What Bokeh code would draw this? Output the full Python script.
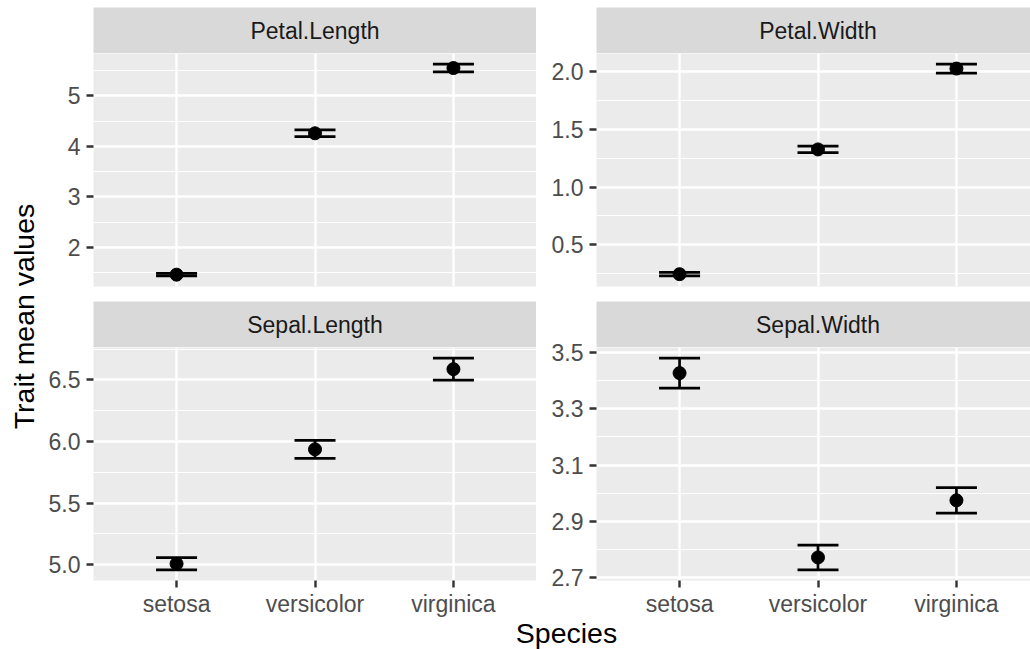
import math
from bokeh.plotting import figure
from bokeh.models import (Range1d, FixedTicker, Label, Whisker, TeeHead, ColumnDataSource,
                          NumeralTickFormatter)
from bokeh.layouts import row, column
from bokeh.embed import file_html
from bokeh.resources import INLINE
from bokeh.core.properties import value

# ---------------- data ----------------
species = ["setosa", "versicolor", "virginica"]

petal_length_mean = [1.462, 4.260, 5.552]
petal_length_se = [0.0246, 0.0665, 0.0780]
petal_width_mean = [0.246, 1.326, 2.026]
petal_width_se = [0.0149, 0.0280, 0.0388]
sepal_length_mean = [5.006, 5.936, 6.588]
sepal_length_se = [0.0498, 0.0730, 0.0899]
sepal_width_mean = [3.428, 2.770, 2.974]
sepal_width_se = [0.0536, 0.0444, 0.0456]

petal_length_ticks = [2, 3, 4, 5]
petal_length_minor = [1.5, 2.5, 3.5, 4.5, 5.5]
petal_width_ticks = [0.5, 1.0, 1.5, 2.0]
petal_width_minor = [0.25, 0.75, 1.25, 1.75]
sepal_length_ticks = [5.0, 5.5, 6.0, 6.5]
sepal_length_minor = [5.25, 5.75, 6.25, 6.75]
sepal_width_ticks = [2.7, 2.9, 3.1, 3.3, 3.5]
sepal_width_minor = [2.8, 3.0, 3.2, 3.4]

x_title = "Species"
y_title = "Trait mean values"

FONT = "Liberation Sans"
x_pos = [i + 1 for i in range(len(species))]
LEFT_XEND = 3.6
RIGHT_XEND = 0.4 + 3.2 * 434 / 443


def strip(label, width, left_border, height, top_border, x_end):
    s = figure(width=width, height=height, x_range=Range1d(0.4, x_end), y_range=Range1d(0, 1),
               x_axis_location=None, y_axis_location=None,
               min_border_left=left_border, min_border_right=0,
               min_border_top=top_border, min_border_bottom=0,
               background_fill_color="#d9d9d9", border_fill_color="white",
               outline_line_color=None, output_backend="svg", toolbar_location=None)
    s.grid.visible = False
    s.text(x=[2.0], y=[0.5], text=[label], text_align="center", text_baseline="middle",
           text_font=value(FONT), text_font_size="23px", text_color="#1a1a1a")
    return s


def panel(means, se, ticks, minor, fmt, width, left_border, height, top_border,
          bottom_border, x_end, show_x):
    lower = [m - e for m, e in zip(means, se)]
    upper = [m + e for m, e in zip(means, se)]
    lo, hi = min(lower), max(upper)
    pad = (hi - lo) * 0.05
    p = figure(width=width, height=height, x_range=Range1d(0.4, x_end),
               y_range=Range1d(lo - pad, hi + pad),
               x_axis_location="below" if show_x else None,
               min_border_left=left_border, min_border_right=0,
               min_border_top=top_border, min_border_bottom=bottom_border,
               background_fill_color="#ebebeb", border_fill_color=None,
               outline_line_color=None, output_backend="svg", toolbar_location=None,
               margin=(-top_border, 0, 0, 0))
    p.xgrid.ticker = FixedTicker(ticks=x_pos)
    p.xgrid.grid_line_color = "white"
    p.xgrid.grid_line_width = 2.4
    p.ygrid.ticker = FixedTicker(ticks=ticks, minor_ticks=minor)
    p.ygrid.grid_line_color = "white"
    p.ygrid.grid_line_width = 2.4
    p.ygrid.minor_grid_line_color = "white"
    p.ygrid.minor_grid_line_width = 1.2

    axes = [p.yaxis[0]]
    p.yaxis.ticker = FixedTicker(ticks=ticks)
    p.yaxis.formatter = NumeralTickFormatter(format=fmt)
    if show_x:
        p.xaxis.ticker = FixedTicker(ticks=x_pos)
        p.xaxis.major_label_overrides = {xp: sp for xp, sp in zip(x_pos, species)}
        p.xaxis.major_label_standoff = 3
        axes.append(p.xaxis[0])
    for ax in axes:
        ax.axis_line_color = None
        ax.major_tick_line_color = "#333333"
        ax.major_tick_line_width = 2.4
        ax.major_tick_out = 7
        ax.major_tick_in = 0
        ax.minor_tick_line_color = None
        ax.major_label_text_font = FONT
        ax.major_label_text_font_size = "23px"
        ax.major_label_text_color = "#4d4d4d"
    p.yaxis.major_label_standoff = 6

    src = ColumnDataSource(dict(x=x_pos, m=means, lower=lower, upper=upper))
    w = Whisker(base="x", lower="lower", upper="upper", source=src, dimension="height",
                line_color="black", line_width=2.7, level="glyph",
                upper_head=TeeHead(size=41, line_color="black", line_width=2.7),
                lower_head=TeeHead(size=41, line_color="black", line_width=2.7))
    p.add_layout(w)
    p.scatter(x="x", y="m", source=src, size=13, color="black")
    return p


LW, LB = 496, 53
RW, RB = 494, 60
OV = 12  # overlap of a panel figure's top border onto the strip above it

s_pl = strip("Petal.Length", LW, LB, 53, 7, LEFT_XEND)
s_pw = strip("Petal.Width", RW, RB, 53, 7, RIGHT_XEND)
p_pl = panel(petal_length_mean, petal_length_se, petal_length_ticks, petal_length_minor, "0",
             LW, LB, 248 + OV, OV, 15, LEFT_XEND, False)
p_pw = panel(petal_width_mean, petal_width_se, petal_width_ticks, petal_width_minor, "0.0",
             RW, RB, 248 + OV, OV, 15, RIGHT_XEND, False)
s_sl = strip("Sepal.Length", LW, LB, 46, 0, LEFT_XEND)
s_sw = strip("Sepal.Width", RW, RB, 46, 0, RIGHT_XEND)
p_sl = panel(sepal_length_mean, sepal_length_se, sepal_length_ticks, sepal_length_minor, "0.0",
             LW, LB, 273 + OV, OV, 40, LEFT_XEND, True)
p_sw = panel(sepal_width_mean, sepal_width_se, sepal_width_ticks, sepal_width_minor, "0.0",
             RW, RB, 273 + OV, OV, 40, RIGHT_XEND, True)

XT_W, XT_H = LW + RW, 35
xt = figure(width=XT_W, height=XT_H, x_range=Range1d(0, XT_W), y_range=Range1d(0, XT_H),
            x_axis_location=None, y_axis_location=None, min_border=0,
            background_fill_color=None, border_fill_color=None,
            outline_line_color=None, output_backend="svg", toolbar_location=None,
            margin=(-6, 0, 0, 0))
xt.grid.visible = False
xt.add_layout(Label(x=526, y=17, text=x_title,
                    text_align="center", text_baseline="middle",
                    text_font=FONT, text_font_size="28.5px", text_color="black"))

YT_W, YT_H = 40, 649
yt = figure(width=YT_W, height=YT_H, x_range=Range1d(0, YT_W), y_range=Range1d(0, YT_H),
            x_axis_location=None, y_axis_location=None, min_border=0,
            outline_line_color=None, output_backend="svg", toolbar_location=None)
yt.grid.visible = False
yt.add_layout(Label(x=23, y=333, text=y_title,
                    angle=math.pi / 2, text_align="center", text_baseline="middle",
                    text_font=FONT, text_font_size="28.5px", text_color="black"))

layout = row(yt, column(row(s_pl, s_pw), row(p_pl, p_pw), row(s_sl, s_sw),
                        row(p_sl, p_sw), xt))

open("out.html", "w").write(file_html(layout, INLINE))
